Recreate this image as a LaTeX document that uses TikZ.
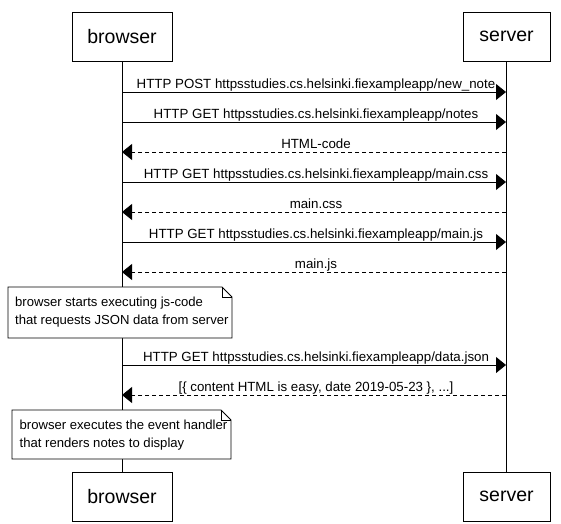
\documentclass[tikz,border=0pt]{standalone}
\usepackage{fontspec}
\setmainfont{Liberation Sans}
\usetikzlibrary{arrows.meta}
\tikzset{
  actor/.style={draw, line width=0.8pt, fill=white, minimum height=49pt, inner sep=0pt, font=\fontsize{19.5}{22}\selectfont},
  msg/.style={line width=0.8pt, -{Triangle[length=10pt,width=16pt]}},
  reply/.style={msg, dash pattern=on 4pt off 3pt},
  lbl/.style={font=\fontsize{13.3}{15}\selectfont, inner sep=1pt, anchor=base},
  notetext/.style={font=\fontsize{13.1}{18}\selectfont, align=left, anchor=north west, inner sep=0pt},
}
\begin{document}
\begin{tikzpicture}[x=1pt,y=-1pt]
\useasboundingbox (0,0) rectangle (561,523);
% lifelines
\coordinate (bt) at (122,61);
\coordinate (bb) at (122,472);
\coordinate (st) at (506,61);
\coordinate (sb) at (506,472);
\draw[line width=0.8pt] (bt) -- (bb);
\draw[line width=0.8pt] (st) -- (sb);
% actors
\node[actor, minimum width=100pt] (b1) at (122,36.5) {browser};
\node[actor, minimum width=87pt] (s1) at (506.5,36.5) {server};
\node[actor, minimum width=100pt] (b2) at (122,496.5) {browser};
\node[actor, minimum width=87pt] (s2) at (506.5,496.5) {server};
% messages
\foreach \y/\t/\k in {
  92/{HTTP POST httpsstudies.cs.helsinki.fiexampleapp/new\_note}/msg,
  122/{HTTP GET httpsstudies.cs.helsinki.fiexampleapp/notes}/msg,
  182/{HTTP GET httpsstudies.cs.helsinki.fiexampleapp/main.css}/msg,
  242/{HTTP GET httpsstudies.cs.helsinki.fiexampleapp/main.js}/msg,
  365/{HTTP GET httpsstudies.cs.helsinki.fiexampleapp/data.json}/msg}{
  \coordinate (l\y) at (122,\y);
  \coordinate (r\y) at (506,\y);
  \draw[\k] (l\y) -- (r\y);
  \node[lbl] (m\y) at (316,\y-4) {\t};
}
\foreach \y/\t in {
  152/{HTML-code},
  212/{main.css},
  272/{main.js},
  395/{[\{ content HTML is easy, date 2019-05-23 \}, ...]}}{
  \coordinate (l\y) at (122,\y);
  \coordinate (r\y) at (506,\y);
  \draw[reply] (r\y) -- (l\y);
  \node[lbl] (m\y) at (316,\y-4) {\t};
}
% notes
\draw[line width=0.8pt, fill=white] (8,287) -- (222,287) -- (232,297) -- (232,338) -- (8,338) -- cycle;
\draw[line width=0.6pt] (222,287) -- (222,297) -- (232,297);
\node[notetext] (n1) at (15,296.5) {browser starts executing js-code\\that requests JSON data from server};
\draw[line width=0.8pt, fill=white] (12,410) -- (221,410) -- (231,420) -- (231,459) -- (12,459) -- cycle;
\draw[line width=0.6pt] (221,410) -- (221,420) -- (231,420);
\node[notetext] (n2) at (19.5,419.5) {browser executes the event handler\\that renders notes to display};
\end{tikzpicture}
\end{document}
